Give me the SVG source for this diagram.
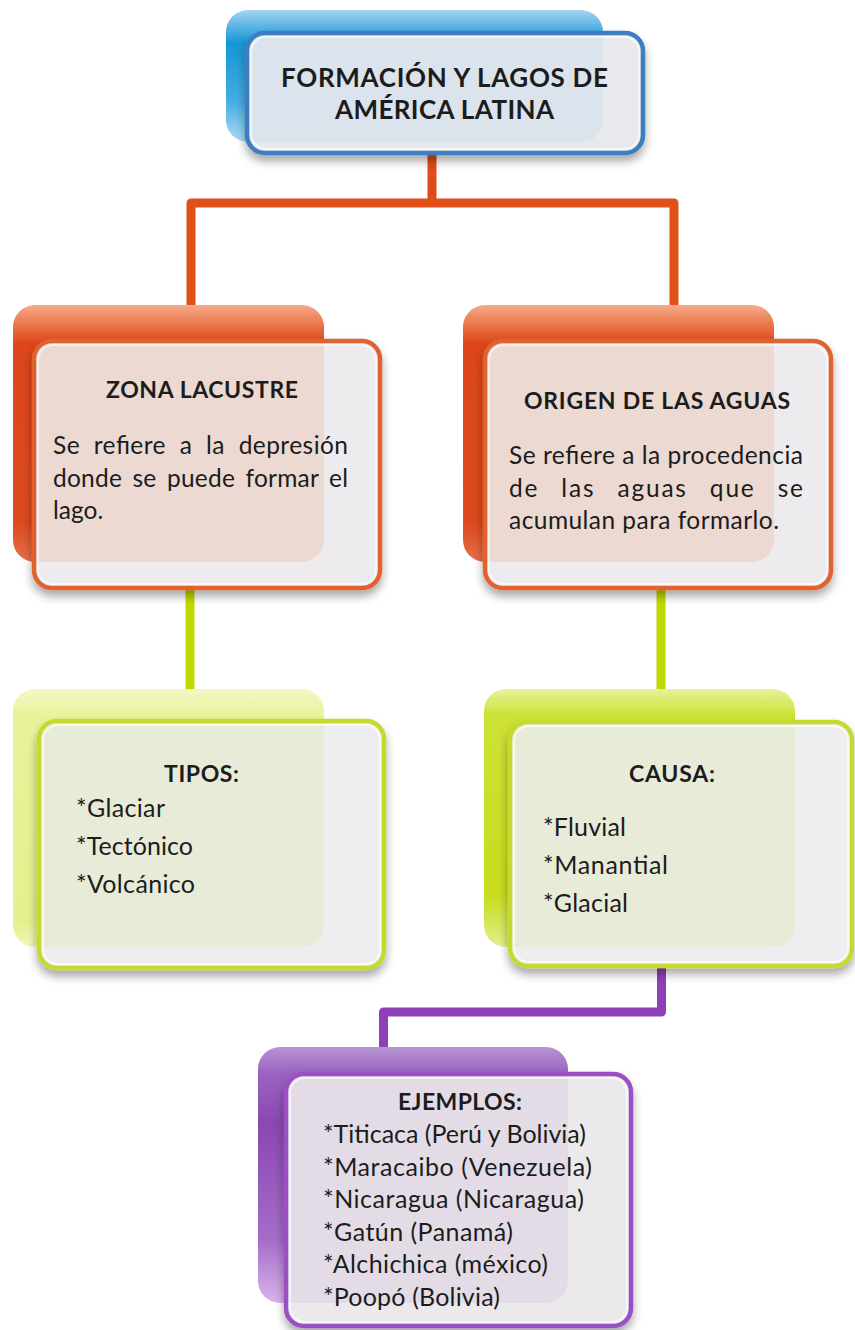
<svg xmlns="http://www.w3.org/2000/svg" width="855" height="1330" viewBox="0 0 855 1330">
<defs>
<style>
.t{font-family:Lato,"Open Sans","Liberation Sans",sans-serif;fill:#1c1c1c}
.b{font-weight:bold}
.h1{font-size:26px}
.h2{font-size:23px}
.bd{font-size:24.5px}
.li{font-size:25px}
.front{stroke-width:4.5;filter:url(#sh)}
.hl{fill:none;stroke:#ffffff;stroke-opacity:.65;stroke-width:2}
.con{fill:none;stroke-width:9;stroke-linejoin:round}
</style>
<filter id="sh" x="-10%" y="-10%" width="125%" height="130%">
<feDropShadow dx="0" dy="6" stdDeviation="5" flood-color="#000" flood-opacity=".35"/>
</filter>
<linearGradient id="gBlue" x1="0" y1="0" x2="0" y2="1">
<stop offset="0" stop-color="#a6d4f0"/><stop offset=".12" stop-color="#5db5e6"/><stop offset=".25" stop-color="#1596d6"/><stop offset=".7" stop-color="#46aee2"/><stop offset="1" stop-color="#b0dcf4"/>
</linearGradient>
<linearGradient id="gOrange" x1="0" y1="0" x2="0" y2="1">
<stop offset="0" stop-color="#f6ab8a"/><stop offset=".07" stop-color="#ec7a50"/><stop offset=".15" stop-color="#dd461a"/><stop offset=".85" stop-color="#dc4a1e"/><stop offset="1" stop-color="#e8704a"/>
</linearGradient>
<linearGradient id="gGreenL" x1="0" y1="0" x2="0" y2="1">
<stop offset="0" stop-color="#f3f8c4"/><stop offset=".1" stop-color="#e9f39c"/><stop offset=".9" stop-color="#e4f08c"/><stop offset="1" stop-color="#eef6bc"/>
</linearGradient>
<linearGradient id="gGreenR" x1="0" y1="0" x2="0" y2="1">
<stop offset="0" stop-color="#e8f29a"/><stop offset=".1" stop-color="#cde236"/><stop offset=".8" stop-color="#c6dc1c"/><stop offset="1" stop-color="#e2ef8e"/>
</linearGradient>
<linearGradient id="gPurple" x1="0" y1="0" x2="0" y2="1">
<stop offset="0" stop-color="#b894d4"/><stop offset=".1" stop-color="#9a64c0"/><stop offset=".3" stop-color="#8a48b2"/><stop offset=".75" stop-color="#a56cc8"/><stop offset="1" stop-color="#d8b4ea"/>
</linearGradient>
<clipPath id="cTop"><rect x="249" y="35" width="392" height="116" rx="16"/></clipPath>
<clipPath id="cZL"><rect x="36" y="343" width="342" height="243" rx="16"/></clipPath>
<clipPath id="cOA"><rect x="487" y="343" width="342" height="243" rx="16"/></clipPath>
<clipPath id="cTI"><rect x="41" y="723" width="341" height="243" rx="16"/></clipPath>
<clipPath id="cCA"><rect x="512" y="724" width="338" height="240" rx="16"/></clipPath>
<clipPath id="cEJ"><rect x="288" y="1076" width="341" height="248" rx="16"/></clipPath>
</defs>
<rect width="855" height="1330" fill="#ffffff"/>

<g id="connectors">
<path d="M432 153 V203" class="con" stroke="#df4d1a" stroke-width="6"/>
<path d="M191 306 V203 H674 V306" class="con" stroke="#e05018"/>
<path d="M190 586 V690" class="con" stroke="#c2d900"/>
<path d="M661 586 V690" class="con" stroke="#c2d900"/>
<path d="M661.5 966 V1012 H383.5 V1048" class="con" stroke="#8e40b8"/>
</g>

<g id="node-titulo">
<rect x="226" y="10" width="377" height="132" rx="22" fill="url(#gBlue)"/>
<rect x="247" y="33" width="396" height="120" rx="18" fill="#e8e9ed" stroke="#3e7ec0" class="front"/>
<rect x="226" y="10" width="377" height="132" rx="22" fill="#9cc4e4" fill-opacity=".16" clip-path="url(#cTop)"/>
<rect x="251" y="37" width="388" height="112" rx="15" class="hl"/>
<text class="t b h1" x="281" y="87" textLength="327">FORMACIÓN Y LAGOS DE</text>
<text class="t b h1" x="335" y="119" textLength="219">AMÉRICA LATINA</text>
</g>

<g id="node-zona-lacustre">
<rect x="13" y="305" width="311" height="257" rx="22" fill="url(#gOrange)"/>
<rect x="34" y="341" width="346" height="247" rx="18" fill="#edebed" stroke="#e0622e" class="front"/>
<rect x="13" y="305" width="311" height="257" rx="22" fill="#e8906a" fill-opacity=".2" clip-path="url(#cZL)"/>
<rect x="38" y="345" width="338" height="239" rx="15" class="hl"/>
<text class="t b h2" x="106" y="398" textLength="192">ZONA LACUSTRE</text>
<text class="t bd" x="53" y="454" word-spacing="7" textLength="295">Se refiere a la depresión</text>
<text class="t bd" x="53" y="487" word-spacing="4" textLength="295">donde se puede formar el</text>
<text class="t bd" x="53" y="519">lago.</text>
</g>

<g id="node-origen-aguas">
<rect x="463" y="305" width="311" height="257" rx="22" fill="url(#gOrange)"/>
<rect x="485" y="341" width="346" height="247" rx="18" fill="#edebed" stroke="#e0622e" class="front"/>
<rect x="463" y="305" width="311" height="257" rx="22" fill="#e8906a" fill-opacity=".2" clip-path="url(#cOA)"/>
<rect x="489" y="345" width="338" height="239" rx="15" class="hl"/>
<text class="t b h2" x="524" y="409" textLength="266">ORIGEN DE LAS AGUAS</text>
<text class="t bd" x="509" y="464" textLength="294">Se refiere a la procedencia</text>
<text class="t bd" x="509" y="497" word-spacing="14" textLength="294">de las aguas que se</text>
<text class="t bd" x="509" y="529" textLength="270">acumulan para formarlo.</text>
</g>

<g id="node-tipos">
<rect x="13" y="689" width="311" height="258" rx="22" fill="url(#gGreenL)"/>
<rect x="39" y="721" width="345" height="247" rx="18" fill="#eeedef" stroke="#c6da2e" class="front"/>
<rect x="13" y="689" width="311" height="258" rx="22" fill="#d8e890" fill-opacity=".25" clip-path="url(#cTI)"/>
<rect x="43" y="725" width="337" height="239" rx="15" class="hl"/>
<text class="t b h2" x="164" y="782" textLength="75">TIPOS:</text>
<text class="t li" x="76" y="817" textLength="89">*Glaciar</text>
<text class="t li" x="76" y="855" textLength="117">*Tectónico</text>
<text class="t li" x="76" y="893" textLength="119">*Volcánico</text>
</g>

<g id="node-causa">
<rect x="484" y="689" width="311" height="258" rx="22" fill="url(#gGreenR)"/>
<rect x="510" y="722" width="342" height="244" rx="18" fill="#eeedef" stroke="#c6da2e" class="front"/>
<rect x="484" y="689" width="311" height="258" rx="22" fill="#d8e890" fill-opacity=".25" clip-path="url(#cCA)"/>
<rect x="514" y="726" width="334" height="236" rx="15" class="hl"/>
<text class="t b h2" x="629" y="782" textLength="86">CAUSA:</text>
<text class="t li" x="543" y="836" textLength="83">*Fluvial</text>
<text class="t li" x="543" y="874" textLength="125">*Manantial</text>
<text class="t li" x="543" y="912" textLength="85">*Glacial</text>
</g>

<g id="node-ejemplos">
<rect x="258" y="1047" width="310" height="256" rx="22" fill="url(#gPurple)"/>
<rect x="286" y="1074" width="345" height="252" rx="18" fill="#ebe9ec" stroke="#9a50c2" class="front"/>
<rect x="258" y="1047" width="310" height="256" rx="22" fill="#c0a0d4" fill-opacity=".18" clip-path="url(#cEJ)"/>
<rect x="290" y="1078" width="337" height="244" rx="15" class="hl"/>
<text class="t b h2" x="398" y="1110" textLength="124">EJEMPLOS:</text>
<text class="t li" x="323" y="1143" textLength="263">*Titicaca (Perú y Bolivia)</text>
<text class="t li" x="323" y="1175.5" textLength="269">*Maracaibo (Venezuela)</text>
<text class="t li" x="323" y="1208" textLength="261">*Nicaragua (Nicaragua)</text>
<text class="t li" x="323" y="1240.5" textLength="190">*Gatún (Panamá)</text>
<text class="t li" x="323" y="1273" textLength="225">*Alchichica (méxico)</text>
<text class="t li" x="323" y="1305.5" textLength="177">*Poopó (Bolivia)</text>
</g>
</svg>
